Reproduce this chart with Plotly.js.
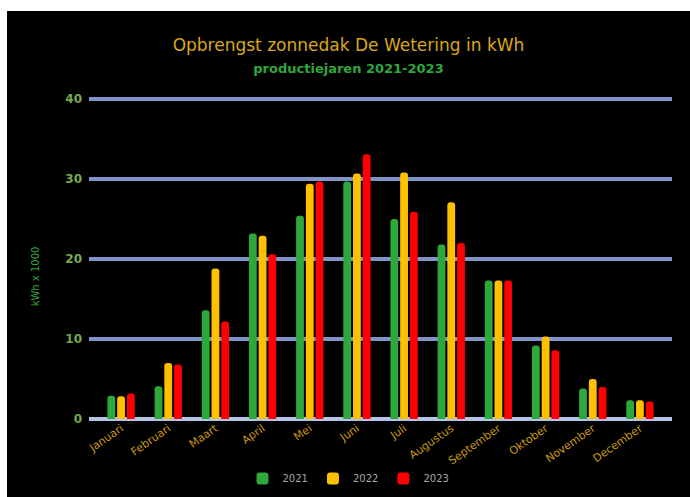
<!DOCTYPE html>
<html>
<head>
<meta charset="utf-8">
<script src="https://cdn.plot.ly/plotly-3.0.1.min.js"></script>
<style>
html,body{margin:0;padding:0;background:#ffffff;}
#chart{position:absolute;left:7px;top:11px;width:683px;height:486px;}
</style>
</head>
<body>
<div id="chart"></div>
<script>
const months = ["Januari","Februari","Maart","April","Mei","Juni","Juli","Augustus","September","Oktober","November","December"];
const years = ["2021","2022","2023"];
const v2021 = [2.9, 4.1, 13.6, 23.2, 25.4, 29.7, 25.0, 21.8, 17.3, 9.2, 3.8, 2.35];
const v2022 = [2.85, 7.0, 18.8, 22.9, 29.4, 30.7, 30.8, 27.1, 17.3, 10.3, 5.0, 2.35];
const v2023 = [3.2, 6.8, 12.2, 20.6, 29.7, 33.1, 25.9, 22.0, 17.3, 8.6, 4.0, 2.2];
const colors = ["#2ea83a", "#ffc000", "#ff0000"];
const series = [v2021, v2022, v2023];

const traces = series.map((vals, i) => ({
  type: "bar",
  name: years[i],
  x: months,
  y: vals,
  marker: {color: colors[i], line: {width: 0}},
  hoverinfo: "x+y+name"
}));

const layout = {
  width: 683, height: 486,
  paper_bgcolor: "#000000",
  plot_bgcolor: "#000000",
  margin: {l: 82, r: 18, t: 86, b: 78},
  title: {
    text: "Opbrengst zonnedak De Wetering in kWh<br><span style='font-size:13px;font-weight:bold;color:#2ea83a'>productiejaren 2021-2023</span>",
    font: {family: "DejaVu Sans", size: 17, color: "#d9a81a"},
    x: 0.5, xanchor: "center", y: 0.918, yanchor: "top"
  },
  barmode: "group",
  bargap: 0.38,
  bargroupgap: 0.2,
  barcornerradius: 4,
  xaxis: {
    type: "category",
    range: [-0.68, 11.68],
    tickangle: -35,
    tickfont: {family: "DejaVu Sans", size: 11, color: "#c99a10"},
    showgrid: false,
    showline: false,
    zeroline: false,
    ticks: "",
    automargin: false,
    fixedrange: true
  },
  yaxis: {
    range: [0, 40.25],
    tickvals: [0, 10, 20, 30, 40],
    tickfont: {family: "DejaVu Sans", size: 12, color: "#79a84a", weight: "bold"},
    showgrid: true,
    gridcolor: "#7f95c8",
    gridwidth: 4,
    zeroline: true,
    zerolinecolor: "#b4c6e7",
    zerolinewidth: 4,
    ticks: "",
    ticklabelstandoff: 6,
    automargin: false,
    fixedrange: true
  },
  annotations: [{
    text: "kWh x 1000",
    xref: "paper", yref: "paper",
    x: -0.0926, y: 0.443,
    xanchor: "center", yanchor: "middle",
    textangle: -90,
    showarrow: false,
    font: {family: "DejaVu Sans", size: 10, color: "#2ea83a"}
  }],
  showlegend: true,
  legend: {
    orientation: "h",
    x: 0.5, xanchor: "center", xref: "container",
    y: 0.038, yanchor: "middle", yref: "container",
    font: {family: "DejaVu Sans", size: 10, color: "#a6a6a6"},
    itemwidth: 30,
    bgcolor: "rgba(0,0,0,0)"
  }
};

Plotly.newPlot("chart", traces, layout, {displayModeBar: false, responsive: false});
</script>
</body>
</html>
